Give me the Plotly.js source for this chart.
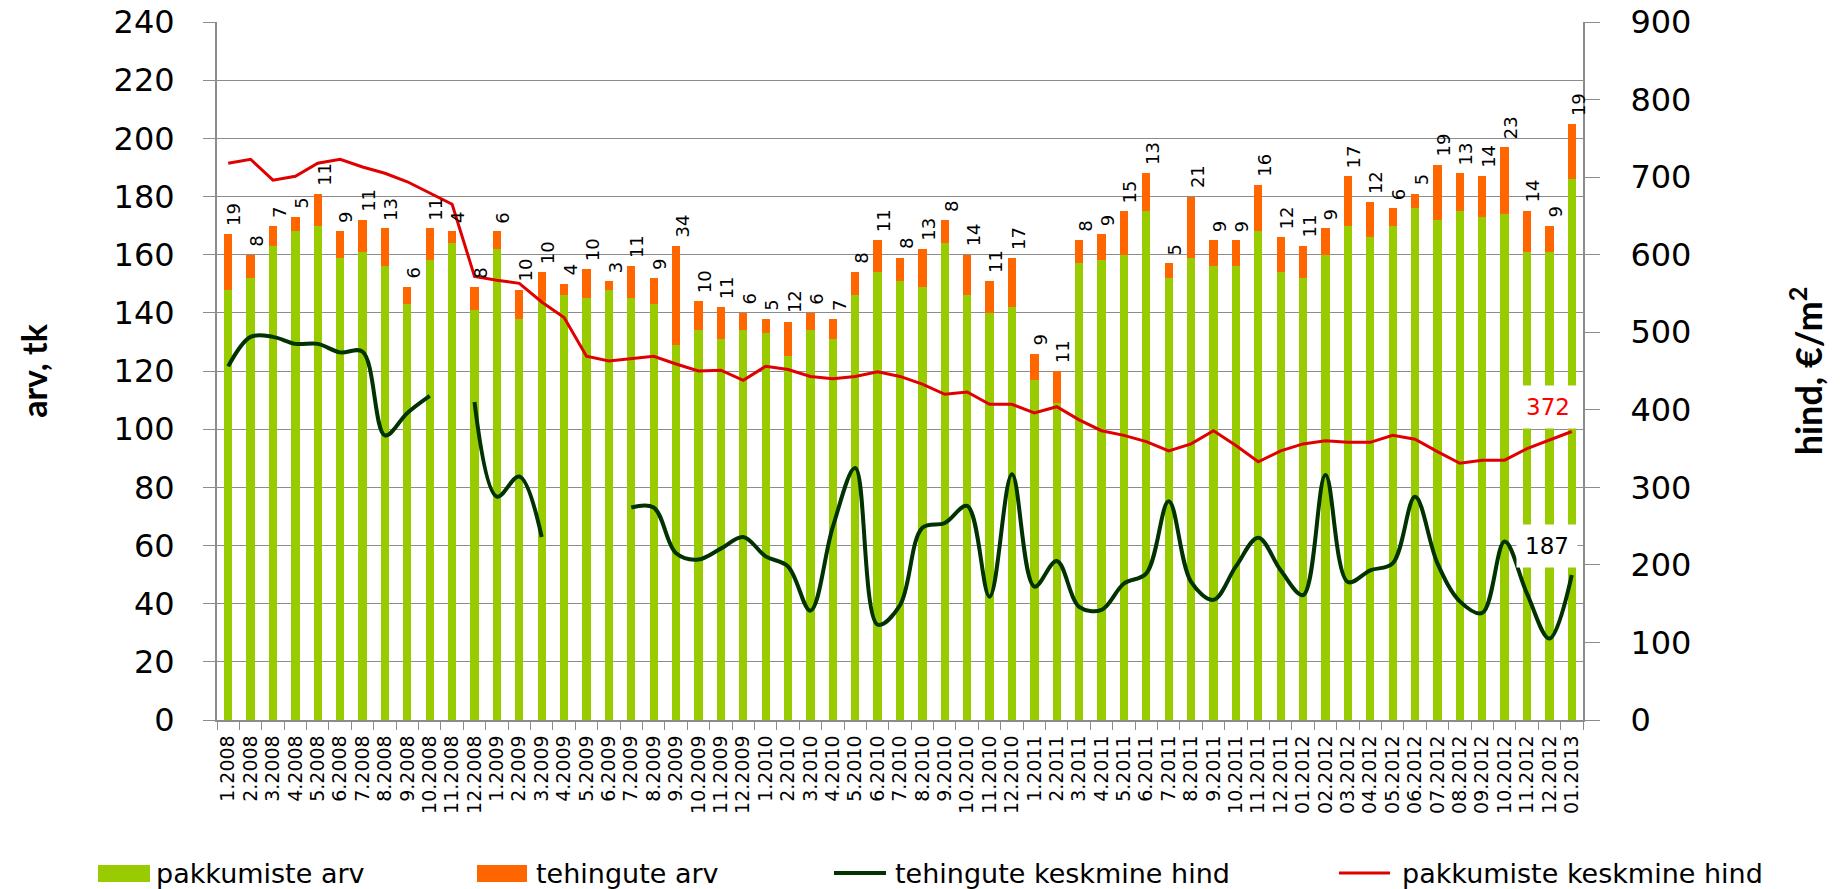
<!DOCTYPE html>
<html>
<head>
<meta charset="utf-8">
<script src="https://cdn.plot.ly/plotly-3.0.1.min.js"></script>
<style>
  html, body { margin: 0; padding: 0; background: #ffffff; }
  #chart { width: 1847px; height: 889px; }
</style>
</head>
<body>
<div id="chart"></div>
<script>
// ---- Data ----
const months = [
  '1.2008','2.2008','3.2008','4.2008','5.2008','6.2008','7.2008','8.2008','9.2008','10.2008','11.2008','12.2008',
  '1.2009','2.2009','3.2009','4.2009','5.2009','6.2009','7.2009','8.2009','9.2009','10.2009','11.2009','12.2009',
  '1.2010','2.2010','3.2010','4.2010','5.2010','6.2010','7.2010','8.2010','9.2010','10.2010','11.2010','12.2010',
  '1.2011','2.2011','3.2011','4.2011','5.2011','6.2011','7.2011','8.2011','9.2011','10.2011','11.2011','12.2011',
  '01.2012','02.2012','03.2012','04.2012','05.2012','06.2012','07.2012','08.2012','09.2012','10.2012','11.2012','12.2012',
  '01.2013'
];

// pakkumiste arv (offers count)
const pakkumisteArv = [
  148,152,163,168,170,159,161,156,143,158,164,141,
  162,138,144,146,145,148,145,143,129,134,131,134,
  133,125,134,131,146,154,151,149,164,146,140,142,
  117,109,157,158,160,175,152,159,156,156,168,154,
  152,160,170,166,170,176,172,175,173,174,161,161,
  186
];

// tehingute arv (transactions count)
const tehinguteArv = [
  19,8,7,5,11,9,11,13,6,11,4,8,
  6,10,10,4,10,3,11,9,34,10,11,6,
  5,12,6,7,8,11,8,13,8,14,11,17,
  9,11,8,9,15,13,5,21,9,9,16,12,
  11,9,17,12,6,5,19,13,14,23,14,9,
  19
];

// tehingute keskmine hind (average transaction price, EUR/m2); null = no data
const tehinguteHind = [
  456,494,494,485,485,474,475,367,396,418,null,410,
  288,314,236,null,null,null,274,274,215,207,221,236,
  211,198,141,249,325,123,148,248,254,276,159,317,
  172,205,146,142,176,189,282,178,155,198,235,193,
  161,316,178,193,202,288,202,153,138,230,163,105,
  187
];

// pakkumiste keskmine hind (average offer price, EUR/m2)
const pakkumisteHind = [
  718,723,696,701,718,723,713,705,694,680,665,572,
  567,563,539,519,469,463,466,469,459,450,451,438,
  456,452,443,440,443,449,443,433,420,423,407,407,
  396,404,387,373,367,359,347,356,373,354,333,347,
  356,360,358,358,367,362,346,331,335,335,350,361,
  372
];

const seriesNames = ['pakkumiste arv', 'tehingute arv', 'tehingute keskmine hind', 'pakkumiste keskmine hind'];

// ---- Styles ----
const C_GREEN = '#99cc00';
const C_ORANGE = '#ff6600';
const C_DKGREEN = '#003300';
const C_RED = '#e00000';
const C_GRID = '#8c8c8c';
const NUM_FONT = 'DejaVu Sans, Verdana, sans-serif';
const TITLE_FONT = 'Lato, Liberation Sans, sans-serif';

// plot-area geometry (pixels) used for placing the hand-drawn legend
const M = { l: 217, r: 264, t: 22, b: 169 };
const W = 1847, H = 889;
const PW = W - M.l - M.r, PH = H - M.t - M.b;
const px = x => (x - M.l) / PW;
const py = y => (H - M.b - y) / PH;

const traces = [
  {
    type: 'bar', name: seriesNames[0], x: months, y: pakkumisteArv,
    marker: { color: C_GREEN, line: { width: 0 } }, showlegend: false, hoverinfo: 'x+y+name'
  },
  {
    type: 'bar', name: seriesNames[1], x: months, y: tehinguteArv,
    marker: { color: C_ORANGE, line: { width: 0 } }, showlegend: false, hoverinfo: 'x+y+name'
  },
  {
    type: 'scatter', mode: 'lines', name: seriesNames[2], x: months, y: tehinguteHind, yaxis: 'y2',
    line: { color: C_DKGREEN, width: 4, shape: 'spline', smoothing: 1 }, connectgaps: false, showlegend: false
  },
  {
    type: 'scatter', mode: 'lines', name: seriesNames[3], x: months, y: pakkumisteHind, yaxis: 'y2',
    line: { color: C_RED, width: 3 }, showlegend: false
  }
];

// data labels: transactions count above each stacked bar (x given as category index)
const annotations = months.map((m, i) => ({
  x: i, y: pakkumisteArv[i] + tehinguteArv[i], xref: 'x', yref: 'y',
  text: String(tehinguteArv[i]), textangle: -90, showarrow: false,
  xanchor: 'center', yanchor: 'bottom', xshift: 6, yshift: 6,
  font: { family: NUM_FONT, size: 18, color: '#000000' }
}));

const last = months.length - 1;
annotations.push({
  x: last, y: pakkumisteHind[last], xref: 'x', yref: 'y2',
  text: String(pakkumisteHind[last]), showarrow: false, xshift: -24, yshift: 24,
  bgcolor: '#ffffff', borderpad: 8,
  font: { family: NUM_FONT, size: 23, color: '#ff0000' }
});
annotations.push({
  x: last, y: tehinguteHind[last], xref: 'x', yref: 'y2',
  text: String(tehinguteHind[last]), showarrow: false, xshift: -25, yshift: 29,
  bgcolor: '#ffffff', borderpad: 8,
  font: { family: NUM_FONT, size: 23, color: '#000000' }
});

// legend (drawn manually to reproduce the wide swatches)
const legY = 873;
const legendItems = [
  { kind: 'rect', color: C_GREEN, x0: 98, x1: 150, tx: 154, name: seriesNames[0] },
  { kind: 'rect', color: C_ORANGE, x0: 477, x1: 527, tx: 534, name: seriesNames[1] },
  { kind: 'line', color: C_DKGREEN, w: 4, x0: 834, x1: 886, tx: 893, name: seriesNames[2] },
  { kind: 'line', color: C_RED, w: 3, x0: 1339, x1: 1390, tx: 1400, name: seriesNames[3] }
];
const shapes = [];
legendItems.forEach(it => {
  if (it.kind === 'rect') {
    shapes.push({ type: 'rect', xref: 'paper', yref: 'paper', x0: px(it.x0), x1: px(it.x1),
      y0: py(legY + 9), y1: py(legY - 8), fillcolor: it.color, line: { width: 0 } });
  } else {
    shapes.push({ type: 'line', xref: 'paper', yref: 'paper', x0: px(it.x0), x1: px(it.x1),
      y0: py(legY), y1: py(legY), line: { color: it.color, width: it.w } });
  }
  annotations.push({ xref: 'paper', yref: 'paper', x: px(it.tx), y: py(legY), xanchor: 'left', yanchor: 'middle',
    text: it.name, showarrow: false, font: { family: NUM_FONT, size: 27, color: '#000000' } });
});

const layout = {
  width: W, height: H,
  margin: { l: M.l, r: M.r, t: M.t, b: M.b, pad: 0 },
  paper_bgcolor: '#ffffff', plot_bgcolor: '#ffffff',
  barmode: 'stack', bargap: 0.63,
  showlegend: false,
  xaxis: {
    type: 'category', range: [-0.5, months.length - 0.5],
    tickmode: 'linear', tick0: 0, dtick: 1,
    tickangle: -90, tickfont: { family: NUM_FONT, size: 19, color: '#000000' },
    ticks: 'outside', ticklen: 8, tickwidth: 1.3, tickcolor: C_GRID, tickson: 'boundaries',
    ticklabelstandoff: 6,
    showgrid: false, showline: true, linecolor: C_GRID, linewidth: 1.5, zeroline: false
  },
  yaxis: {
    range: [0, 240], tick0: 0, dtick: 20,
    ticks: 'outside', ticklen: 12, tickwidth: 1.3, tickcolor: C_GRID, ticklabelstandoff: 22,
    tickfont: { family: NUM_FONT, size: 32, color: '#000000' },
    showgrid: true, gridcolor: C_GRID, gridwidth: 1.3,
    showline: true, linecolor: C_GRID, linewidth: 2, zeroline: false,
    title: { text: 'arv, tk', standoff: 56, font: { family: TITLE_FONT, size: 34, weight: 'bold', color: '#000000' } }
  },
  yaxis2: {
    overlaying: 'y', side: 'right', range: [0, 900], tick0: 0, dtick: 100,
    ticks: 'outside', ticklen: 15, tickwidth: 1.3, tickcolor: C_GRID, ticklabelstandoff: 24,
    tickfont: { family: NUM_FONT, size: 32, color: '#000000' },
    showgrid: false, showline: true, linecolor: C_GRID, linewidth: 2, zeroline: false,
    title: { text: 'hind, €/m<sup>2</sup>', standoff: 106, font: { family: TITLE_FONT, size: 36, weight: 'bold', color: '#000000' } }
  },
  annotations: annotations,
  shapes: shapes
};

Plotly.newPlot('chart', traces, layout, { displayModeBar: false, responsive: false });
</script>
</body>
</html>
